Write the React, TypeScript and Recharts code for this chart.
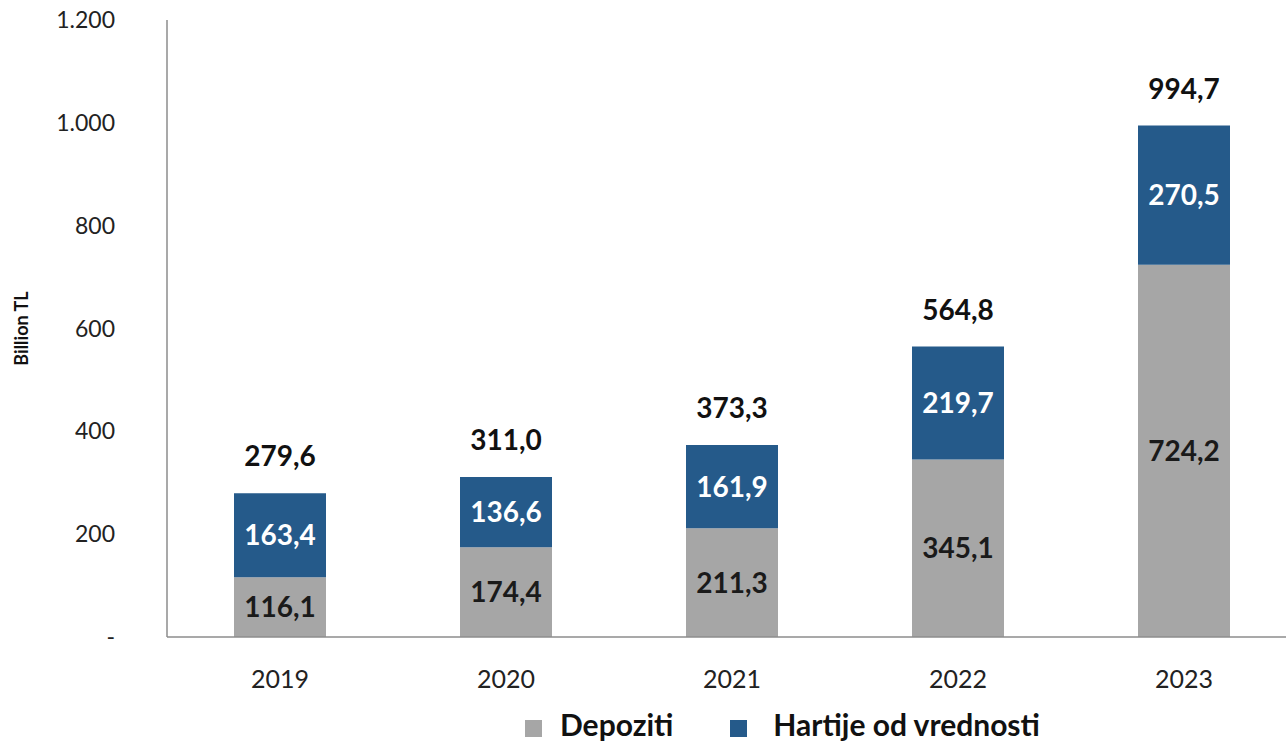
import { BarChart, Bar, XAxis, YAxis, Legend, LabelList } from 'recharts';

const years = ['2019', '2020', '2021', '2022', '2023'];
const depoziti = [116.1, 174.4, 211.3, 345.1, 724.2];
const hartije = [163.4, 136.6, 161.9, 219.7, 270.5];
const totals = [279.6, 311.0, 373.3, 564.8, 994.7];
const yTicks = [0, 200, 400, 600, 800, 1000, 1200];

const GRAY = '#A6A6A6';
const BLUE = '#255A8A';
const FONT = 'Lato, "Open Sans", sans-serif';

const chartData = years.map((year, i) => ({
  year,
  depoziti: depoziti[i],
  hartije: hartije[i],
  total: totals[i],
}));

function fmtDec(v: number): string {
  return v.toFixed(1).replace('.', ',');
}

function fmtTick(v: number): string {
  if (v === 0) return '-';
  return v.toLocaleString('de-DE');
}

function TotalLabel(props: any) {
  const { x, y, width, value } = props;
  return (
    <text
      x={x + width / 2}
      y={y - 27}
      textAnchor="middle"
      fontFamily={FONT}
      fontWeight={700}
      fontSize={28}
      fill="#111"
    >
      {fmtDec(value)}
    </text>
  );
}

function renderLegend() {
  const items = [
    { label: 'Depoziti', color: GRAY, gap: 18, left: 525 },
    { label: 'Hartije od vrednosti', color: BLUE, gap: 26, left: 57 },
  ];
  return (
    <div style={{ display: 'flex', alignItems: 'center', paddingTop: 30 }}>
      {items.map((it) => (
        <div key={it.label} style={{ display: 'flex', alignItems: 'center', marginLeft: it.left }}>
          <span style={{ width: 17, height: 17, background: it.color, display: 'inline-block', marginRight: it.gap, marginTop: 8 }} />
          <span style={{ fontFamily: FONT, fontWeight: 700, fontSize: 30, color: '#111', lineHeight: '34px' }}>{it.label}</span>
        </div>
      ))}
    </div>
  );
}

export default function App() {
  return (
    <div style={{ position: 'absolute', left: 0, top: 0, width: 1286, height: 742, overflow: 'hidden', background: '#fff' }}>
      <BarChart
        width={1300}
        height={742}
        data={chartData}
        margin={{ top: 20, right: 3, left: 0, bottom: 0 }}
        barCategoryGap={67}
      >
        <XAxis
          dataKey="year"
          height={40}
          tickLine={false}
          axisLine={{ stroke: '#8c8c8c', strokeWidth: 1.5 }}
          tick={{ fontFamily: FONT, fontSize: 25, fill: '#222' }}
          tickMargin={27}
        />
        <YAxis
          width={167}
          domain={[0, 1200]}
          ticks={yTicks}
          tickFormatter={fmtTick}
          tickLine={false}
          axisLine={{ stroke: '#8c8c8c', strokeWidth: 1.5 }}
          tickSize={0}
          tickMargin={52}
          tick={{ fontFamily: FONT, fontSize: 23, fill: '#222' }}
          label={{
            value: 'Billion TL',
            angle: -90,
            position: 'insideLeft',
            offset: 22,
            style: { fontFamily: FONT, fontWeight: 700, fontSize: 18, fill: '#111', textAnchor: 'middle' },
          }}
        />
        <Legend verticalAlign="bottom" height={65} content={renderLegend} />
        <Bar dataKey="depoziti" name="Depoziti" stackId="a" fill={GRAY} isAnimationActive={false}>
          <LabelList
            dataKey="depoziti"
            position="center"
            formatter={(v: any) => fmtDec(Number(v))}
            style={{ fontFamily: FONT, fontWeight: 700, fontSize: 28, fill: '#1a1a1a' }}
          />
        </Bar>
        <Bar dataKey="hartije" name="Hartije od vrednosti" stackId="a" fill={BLUE} isAnimationActive={false}>
          <LabelList
            dataKey="hartije"
            position="center"
            formatter={(v: any) => fmtDec(Number(v))}
            style={{ fontFamily: FONT, fontWeight: 700, fontSize: 28, fill: '#ffffff' }}
          />
          <LabelList dataKey="total" content={TotalLabel} />
        </Bar>
      </BarChart>
    </div>
  );
}
